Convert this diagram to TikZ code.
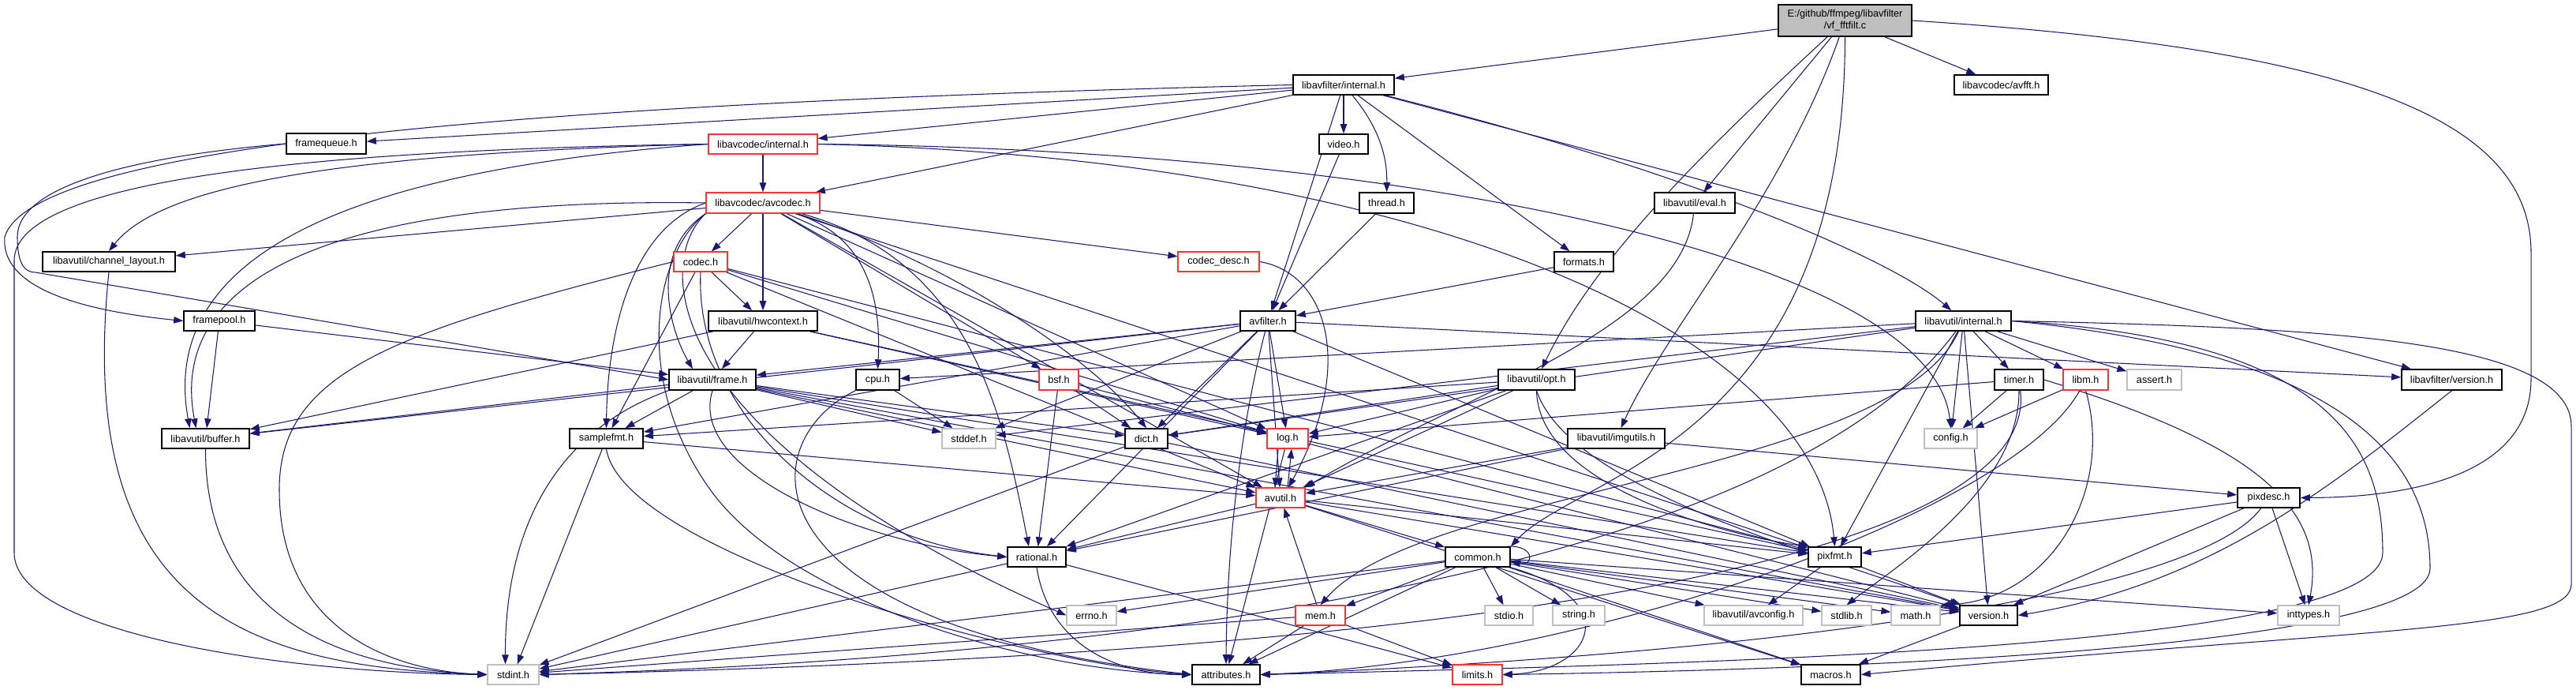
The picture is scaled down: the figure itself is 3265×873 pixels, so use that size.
\documentclass[tikz,border=0pt]{standalone}
\usepackage{fontspec}
\setmainfont{Liberation Sans}
\usetikzlibrary{arrows.meta}
\pgfdeclarelayer{bg}
\pgfsetlayers{bg,main}
\definecolor{edgec}{RGB}{25,25,112}
\definecolor{grayb}{RGB}{191,191,191}
\definecolor{redb}{RGB}{255,50,50}
\definecolor{rootf}{RGB}{191,191,191}
\newcommand{\nd}[7]{\node[#6, minimum width={(#3-#2)*1pt}, minimum height={(#5-#4)*1pt}] (#1) at ({(#2+#3)/2},{(#4+#5)/2}) {#7};}
\begin{document}
\begin{tikzpicture}[x=1pt,y=-1pt,
  nb/.style={draw=black, line width=1.6pt, fill=white, inner sep=0pt, font=\fontsize{12.7}{15}\selectfont},
  rb/.style={nb, draw=redb, line width=1.2pt},
  gb/.style={nb, draw=grayb, line width=1.2pt},
  rootbox/.style={nb, fill=rootf, align=center},
  e/.style={draw=edgec, line width=1.05pt, -{Triangle[length=12pt,width=8.5pt]}}]
\useasboundingbox (0,0) rectangle (3265,873);
% nodes
\nd{root}{2254}{2423}{6}{46}{rootbox}{E:/github/ffmpeg/libavfilter\\/vf\_fftfilt.c}
\nd{lfint}{1639}{1767}{95}{120}{nb}{libavfilter/internal.h}
\nd{avfft}{2477}{2596}{95}{120}{nb}{libavcodec/avfft.h}
\nd{fq}{363}{464}{169}{195}{nb}{framequeue.h}
\nd{lcint}{898}{1036}{170}{195}{rb}{libavcodec/internal.h}
\nd{video}{1672}{1734}{170}{195}{nb}{video.h}
\nd{avcodec}{895}{1039}{244}{270}{rb}{libavcodec/avcodec.h}
\nd{thread}{1723}{1792}{244}{270}{nb}{thread.h}
\nd{eval}{2097}{2199}{244}{270}{nb}{libavutil/eval.h}
\nd{chl}{54}{222}{319}{344}{nb}{libavutil/channel\_layout.h}
\nd{codec}{854}{922}{319}{344}{rb}{codec.h}
\nd{cdesc}{1493}{1596}{319}{344}{rb}{codec\_desc.h}
\nd{formats}{1970}{2045}{319}{344}{nb}{formats.h}
\nd{fpool}{233}{323}{394}{419}{nb}{framepool.h}
\nd{hwctx}{898}{1036}{394}{419}{nb}{libavutil/hwcontext.h}
\nd{avfilter}{1572}{1642}{394}{419}{nb}{avfilter.h}
\nd{luint}{2428}{2549}{394}{419}{nb}{libavutil/internal.h}
\nd{frame}{848}{958}{468}{494}{nb}{libavutil/frame.h}
\nd{cpu}{1085}{1140}{468}{494}{nb}{cpu.h}
\nd{bsf}{1317}{1367}{468}{494}{rb}{bsf.h}
\nd{opt}{1899}{1996}{468}{494}{nb}{libavutil/opt.h}
\nd{timer}{2528}{2590}{468}{494}{nb}{timer.h}
\nd{libm}{2615}{2672}{468}{494}{rb}{libm.h}
\nd{assert}{2696}{2765}{468}{494}{gb}{assert.h}
\nd{lfver}{3044}{3171}{468}{494}{nb}{libavfilter/version.h}
\nd{buffer}{205}{316}{543}{568}{nb}{libavutil/buffer.h}
\nd{sfmt}{722}{815}{543}{568}{nb}{samplefmt.h}
\nd{stddef}{1194}{1262}{543}{568}{gb}{stddef.h}
\nd{dict}{1426}{1480}{543}{568}{nb}{dict.h}
\nd{log}{1606}{1658}{543}{568}{rb}{log.h}
\nd{imgutils}{1987}{2110}{543}{568}{nb}{libavutil/imgutils.h}
\nd{config}{2439}{2506}{543}{568}{gb}{config.h}
\nd{avutil}{1592}{1654}{618}{643}{rb}{avutil.h}
\nd{pixdesc}{2836}{2915}{618}{643}{nb}{pixdesc.h}
\nd{rational}{1277}{1351}{693}{718}{nb}{rational.h}
\nd{common}{1832}{1914}{693}{718}{nb}{common.h}
\nd{pixfmt}{2292}{2359}{693}{718}{nb}{pixfmt.h}
\nd{errno}{1352}{1415}{767}{792}{gb}{errno.h}
\nd{mem}{1642}{1705}{767}{792}{rb}{mem.h}
\nd{stdio}{1882}{1943}{767}{792}{gb}{stdio.h}
\nd{string}{1968}{2034}{767}{792}{gb}{string.h}
\nd{avconfig}{2160}{2285}{767}{792}{gb}{libavutil/avconfig.h}
\nd{stdlib}{2309}{2372}{767}{792}{gb}{stdlib.h}
\nd{math}{2397}{2459}{767}{792}{gb}{math.h}
\nd{version}{2484}{2557}{767}{792}{nb}{version.h}
\nd{inttypes}{2887}{2965}{767}{792}{gb}{inttypes.h}
\nd{stdint}{618}{683}{842}{867}{gb}{stdint.h}
\nd{attrs}{1511}{1597}{842}{867}{nb}{attributes.h}
\nd{limits}{1841}{1904}{842}{867}{rb}{limits.h}
\nd{macros}{2283}{2358}{842}{867}{nb}{macros.h}
\begin{pgfonlayer}{bg}
\fill[white] (0,0) rectangle (3265,873);
% root
\draw[e] (root) -- (lfint);
\draw[e] (root) -- (avfft);
\draw[e] (root) .. controls (2150,200) and (2020,330) .. (opt);
\draw[e] (root) -- (eval);
\draw[e] (root) .. controls (2260,250) and (2110,420) .. (imgutils);
\draw[e] (root.south) .. controls (2338,560) and (2000,600) .. (common.north east);
\draw[e] (root.east) .. controls (2950,60) and (3208,140) .. (3208,320) -- (3208,480) .. controls (3208,600) and (3060,630) .. (pixdesc.east);
% libavfilter/internal.h
\draw[e] (lfint) -- (fq);
\draw[e] (lfint) -- (lcint);
\draw[e] (lfint) -- (avcodec);
\draw[e] (lfint.west) .. controls (600,132) and (40,190) .. (6,300) .. controls (0,370) and (120,395) .. (fpool.west);
\draw[e] (lfint) -- (video);
\draw[e] (lfint) .. controls (1755,170) and (1758,210) .. (thread);
\draw[e] (lfint) -- (formats);
\draw[e] (lfint) -- (avfilter);
\draw[e] (lfint) .. controls (2150,220) and (2400,330) .. (luint);
\draw[e] (lfint) -- (lfver);
% small libavfilter headers
\draw[e] (fq.west) .. controls (150,200) and (22,240) .. (22,300) .. controls (22,340) and (35,345) .. (45,345) -- (frame.west);
\draw[e] (fpool) -- (frame);
\draw[e] (fpool) -- (buffer);
\draw[e] (video) -- (avfilter);
\draw[e] (thread) -- (avfilter);
\draw[e] (formats) -- (avfilter);
% libavcodec/internal.h
\draw[e] (lcint.west) .. controls (380,190) and (18,230) .. (18,330) -- (18,700) .. controls (18,800) and (350,852) .. (stdint.west);
\draw[e] (lcint.west) .. controls (400,195) and (200,240) .. (chl.north);
\draw[e] (lcint.west) .. controls (450,215) and (200,320) .. ([xshift=-20pt]buffer.north);
\draw[e] (lcint) -- (avcodec);
\draw[e] (lcint.east) .. controls (1800,200) and (2300,420) .. (pixfmt.north);
\draw[e] (lcint.east) .. controls (1800,190) and (2450,330) .. (config.north);
% libavcodec/avcodec.h
\draw[e] (avcodec) -- (codec);
\draw[e] (avcodec) -- (hwctx);
\draw[e] (avcodec) -- (cdesc);
\draw[e] (avcodec) -- (chl);
\draw[e] (avcodec.west) .. controls (450,250) and (210,340) .. ([xshift=-12pt]buffer.north);
\draw[e] (avcodec.south west) .. controls (820,320) and (850,420) .. ([xshift=-25pt]frame.north);
\draw[e] (avcodec.west) .. controls (800,290) and (770,420) .. (sfmt.north);
\draw[e] (avcodec) .. controls (1100,300) and (1117,380) .. (cpu.north);
\draw[e] (avcodec) .. controls (1200,330) and (1380,450) .. (dict.north);
\draw[e] (avcodec) -- (bsf);
\draw[e] (avcodec) -- (log);
\draw[e] (avcodec) -- (pixfmt);
\draw[e] (avcodec) -- (avutil);
\draw[e] (avcodec) .. controls (1230,330) and (1270,520) .. ([xshift=-10pt]rational.north);
\draw[e] (avcodec.south west) .. controls (830,320) and (800,480) .. (900,620) .. controls (1000,760) and (1300,850) .. (attrs.west);
\draw[e] (avcodec.south west) .. controls (830,330) and (830,550) .. (errno.west);
% codec.h
\draw[e] (codec.west) .. controls (500,420) and (354,470) .. (354,620) .. controls (354,800) and (500,850) .. (stdint.west);
\draw[e] (codec) -- (avutil);
\draw[e] (codec) -- (hwctx);
\draw[e] (codec) -- (log);
\draw[e] (codec) -- (pixfmt);
\draw[e] (codec.south) .. controls (880,520) and (1050,680) .. (rational.west);
\draw[e] (codec) -- (sfmt);
\draw[e] (cdesc.east) .. controls (1680,345) and (1720,460) .. ([xshift=10pt]avutil.north);
% bsf.h
\draw[e] (bsf) -- (dict);
\draw[e] (bsf) -- (log);
\draw[e] (bsf) -- (rational);
% hwcontext.h
\draw[e] (hwctx) -- (buffer);
\draw[e] (hwctx) -- (frame);
\draw[e] (hwctx) -- (log);
\draw[e] (hwctx) -- (pixfmt);
% avfilter.h
\draw[e] (avfilter) -- (stddef);
\draw[e] (avfilter) .. controls (1570,550) and (1555,700) .. (attrs.north);
\draw[e] (avfilter) -- (avutil);
\draw[e] (avfilter) -- (buffer);
\draw[e] (avfilter) -- (dict);
\draw[e] (avfilter) -- (frame);
\draw[e] (avfilter) -- (log);
\draw[e] (avfilter) -- (sfmt);
\draw[e] (avfilter) -- (pixfmt);
\draw[e] (avfilter) -- (rational);
\draw[e] (avfilter) -- (lfver);
% libavutil/internal.h
\draw[e] (luint) -- (timer);
\draw[e] (luint) -- (libm);
\draw[e] (luint) -- (assert);
\draw[e] (luint) -- (config);
\draw[e] (luint) -- (cpu);
\draw[e] (luint) -- (dict);
\draw[e] (luint) -- (stddef);
\draw[e] (luint.east) .. controls (2950,430) and (3020,560) .. (3020,700) .. controls (3020,820) and (2200,840) .. (attrs.east);
\draw[e] (luint.east) .. controls (2950,415) and (3259,430) .. (3259,540) -- (3259,740) .. controls (3259,800) and (3000,795) .. (macros.east);
\draw[e] (luint) .. controls (2400,600) and (1800,620) .. (mem.north);
\draw[e] (luint) -- (pixfmt);
\draw[e] (luint) -- (version);
\draw[e] (luint.east) .. controls (3000,450) and (3080,600) .. (3080,720) .. controls (3080,830) and (2200,850) .. (limits.east);
\draw[e] (luint) .. controls (2200,800) and (1000,845) .. (stdint.east);
% frame.h
\draw[e] (frame) -- (stddef);
\draw[e] (frame.south west) .. controls (720,540) and (640,650) .. ([xshift=-10pt]stdint.north);
\draw[e] (frame) -- (avutil);
\draw[e] (frame) -- (buffer);
\draw[e] (frame) -- (dict);
\draw[e] (frame.south) .. controls (870,600) and (1100,690) .. (rational.west);
\draw[e] (frame) -- (sfmt);
\draw[e] (frame) -- (pixfmt);
\draw[e] (frame) -- (version);
% cpu.h
\draw[e] (cpu) -- (stddef);
\draw[e] (cpu.south west) .. controls (950,560) and (940,790) .. (attrs.west);
% samplefmt.h
\draw[e] (sfmt) -- (stdint);
\draw[e] (sfmt) -- (avutil);
\draw[e] (sfmt.south) .. controls (790,700) and (1300,840) .. (attrs.west);
% buffer, channel_layout
\draw[e] (buffer.south) .. controls (260,760) and (400,845) .. (stdint.west);
\draw[e] (chl.south) .. controls (95,760) and (300,845) .. (stdint.west);
% dict.h
\draw[e] (dict) -- (stdint);
\draw[e] (dict) -- (version);
% log.h / avutil.h
\draw[e] ([xshift=-12pt]log.south) -- ([xshift=-7pt]avutil.north);
\draw[e] ([xshift=9pt]avutil.north) -- ([xshift=5pt]log.south);
\draw[e] (log) -- (attrs);
\draw[e] (log) -- (version);
\draw[e] (avutil) -- (common);
\draw[e] (avutil) -- (rational);
\draw[e] (avutil) -- (version);
\draw[e] (avutil) -- (macros);
\draw[e] (avutil) -- (pixfmt);
% common.h
\draw[e] (common) -- (errno);
\draw[e] (common) -- (inttypes);
\draw[e] (common.south east) .. controls (2060,760) and (2020,850) .. (limits.east);
\draw[e] (common) -- (math);
\draw[e] (common) -- (stdint);
\draw[e] (common) -- (stdio);
\draw[e] (common) -- (stdlib);
\draw[e] (common) -- (string);
\draw[e] (common) -- (attrs);
\draw[e] (common) -- (macros);
\draw[e] (common) -- (version);
\draw[e] (common) -- (avconfig);
\draw[e] (common) -- (mem);
\draw[e] ([xshift=-4pt]common.north east) .. controls +(35,-2) and +(30,6) .. ([yshift=-6pt]common.east);
% mem.h
\draw[e] (mem) -- (limits);
\draw[e] (mem) -- (stdint);
\draw[e] (mem) -- (attrs);
\draw[e] (mem) -- (avutil);
% rational.h
\draw[e] (rational) -- (stdint);
\draw[e] (rational) -- (limits);
\draw[e] (rational.south) .. controls (1330,820) and (1420,855) .. (attrs.west);
% pixfmt, version
\draw[e] (pixfmt) -- (avconfig);
\draw[e] (pixfmt) -- (version);
\draw[e] (version) -- (macros);
% opt.h
\draw[e] (opt) -- (rational);
\draw[e] (opt) -- (avutil);
\draw[e] (opt) -- (dict);
\draw[e] (opt) -- (log);
\draw[e] (opt.south) .. controls (1950,620) and (2200,680) .. (pixfmt.north west);
\draw[e] (opt) -- (sfmt);
\draw[e] (opt.south) .. controls (1990,620) and (2300,700) .. (version.north west);
% imgutils.h
\draw[e] (imgutils) -- (avutil);
\draw[e] (imgutils) -- (pixdesc);
\draw[e] (imgutils) -- (rational);
% pixdesc.h
\draw[e] (pixdesc) -- (inttypes);
\draw[e] (pixdesc) .. controls (2780,760) and (2200,830) .. (attrs.east);
\draw[e] (pixdesc) -- (pixfmt);
\draw[e] (pixdesc) -- (version);
\draw[e] (eval) .. controls (2130,420) and (1850,500) .. (avutil.north east);
% timer.h
\draw[e] (timer) -- (config);
\draw[e] (timer.south) .. controls (2560,620) and (2400,720) .. (stdlib.north);
\draw[e] (timer) .. controls (2580,650) and (2200,820) .. (stdint.east);
\draw[e] (timer.east) .. controls (2850,560) and (2950,640) .. (inttypes.north);
\draw[e] (timer) -- (log);
% libm.h
\draw[e] (libm) -- (config);
\draw[e] (libm.south) .. controls (2680,620) and (2600,760) .. (math.north east);
\draw[e] (libm) .. controls (2550,650) and (2000,840) .. (attrs.east);
% libavfilter/version.h
\draw[e] (lfver.south) .. controls (2950,620) and (2800,740) .. (version.east);
\end{pgfonlayer}
\end{tikzpicture}
\end{document}
